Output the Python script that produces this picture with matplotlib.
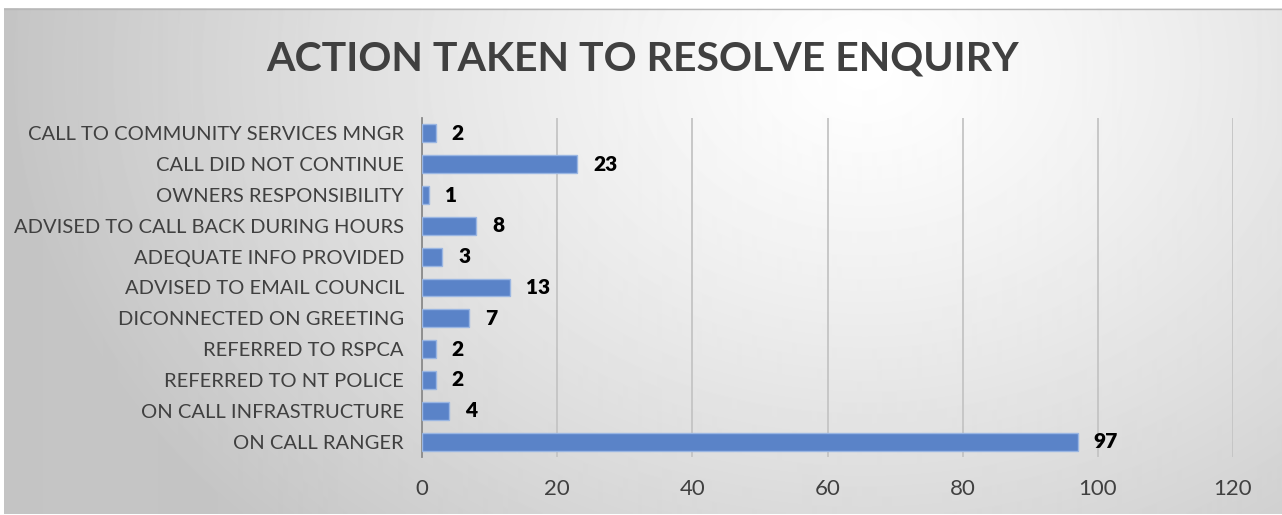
import numpy as np
import matplotlib.pyplot as plt

categories = [
    "ON CALL RANGER",
    "ON CALL INFRASTRUCTURE",
    "REFERRED TO NT POLICE",
    "REFERRED TO RSPCA",
    "DICONNECTED ON GREETING",
    "ADVISED TO EMAIL COUNCIL",
    "ADEQUATE INFO PROVIDED",
    "ADVISED TO CALL BACK DURING HOURS",
    "OWNERS RESPONSIBILITY",
    "CALL DID NOT CONTINUE",
    "CALL TO COMMUNITY SERVICES MNGR",
]
counts = [97, 4, 2, 2, 7, 13, 3, 8, 1, 23, 2]
xticks = [0, 20, 40, 60, 80, 100, 120]
title = "ACTION TAKEN TO RESOLVE ENQUIRY"

plt.rcParams['font.family'] = ['Lato', 'DejaVu Sans']

W, H = 1282, 515
fig = plt.figure(figsize=(W / 100, H / 100), dpi=100)
fig.patch.set_facecolor('white')

# gradient background of the chart area
bg = fig.add_axes([4 / W, 1 - 514 / H, 1 - 4 / W, (514 - 8) / H])
yy, xx = np.mgrid[0:506, 0:1278]
d = np.sqrt(((xx - 860) / 1.0) ** 2 + ((yy - 60) * 1.3) ** 2)
shade = 1.0 - 0.23 * np.clip(d / 860, 0, 1) ** 1.2
bg.imshow(shade, cmap='gray', vmin=0, vmax=1, aspect='auto', interpolation='bilinear')
bg.set_axis_off()
bg.plot([0, 1277], [0.5, 0.5], color='#b8b8b8', lw=1)
bg.set_xlim(0, 1277)
bg.set_ylim(505.5, -0.5)

ax = fig.add_axes([422 / W, 1 - 457 / H, (1233 - 422) / W, (457 - 118) / H])
ax.patch.set_alpha(0)
y = np.arange(len(categories))
bars = ax.barh(y, counts, height=0.58, color='#5a83c8', edgecolor='#9ab6e2', linewidth=1, zorder=3)
for yi, v in zip(y, counts):
    ax.text(v + 2.4, yi, str(v), va='center', ha='left', fontsize=15, fontweight='heavy', color='black')

ax.set_xlim(0, 120)
ax.set_ylim(-0.5, len(categories) - 0.5)
ax.set_xticks(xticks)
ax.set_yticks(y)
ax.set_yticklabels(categories)
ax.grid(axis='x', color='#c4c4c4', lw=1.3, zorder=0)
for s in ['top', 'right', 'bottom']:
    ax.spines[s].set_visible(False)
ax.spines['left'].set_color('#8a8a8a')
ax.spines['left'].set_linewidth(1.3)
ax.tick_params(axis='both', length=0, labelcolor='#404040')
ax.tick_params(axis='x', pad=16, labelsize=16)
ax.tick_params(axis='y', pad=13, labelsize=14.5)

fig.text(643 / W, 1 - 59 / H, title, ha='center', va='center', fontsize=29.5,
         fontweight='bold', color='#404040')

fig.savefig('out.png', dpi=100)
